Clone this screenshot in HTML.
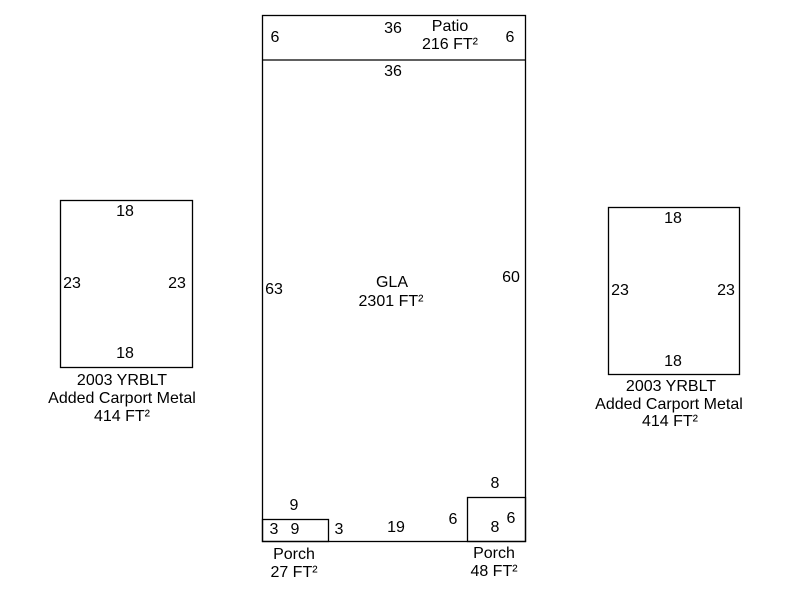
<!DOCTYPE html>
<html><head><style>body{margin:0;background:#fff}svg{display:block}text{font-family:"Liberation Sans",Arial,sans-serif;font-size:16px}</style></head><body>
<svg width="800" height="600" xmlns="http://www.w3.org/2000/svg" fill="#000" text-anchor="middle">
<g fill="none" stroke="#000" stroke-width="1.3">
<rect x="262.5" y="15.5" width="263" height="526"/>
<line x1="262" y1="60" x2="526" y2="60"/>
<rect x="262.5" y="519.5" width="66" height="22"/>
<rect x="467.5" y="497.5" width="58" height="44"/>
<rect x="60.5" y="200.5" width="132" height="167"/>
<rect x="608.5" y="207.5" width="131" height="167"/>
</g>
<text x="275" y="42">6</text><text x="393" y="33">36</text><text x="450" y="31">Patio</text><text x="450" y="49">216 FT²</text><text x="510" y="42">6</text>
<text x="393" y="76">36</text>
<text x="274" y="294">63</text><text x="511" y="282">60</text>
<text x="392" y="287">GLA</text><text x="391" y="306">2301 FT²</text>
<text x="294" y="510">9</text><text x="274" y="534">3</text><text x="295" y="534">9</text><text x="339" y="534">3</text>
<text x="396" y="532">19</text><text x="453" y="524">6</text>
<text x="495" y="488">8</text><text x="495" y="532">8</text><text x="511" y="523">6</text>
<text x="294" y="559">Porch</text><text x="294" y="577">27 FT²</text>
<text x="494" y="558">Porch</text><text x="494" y="576">48 FT²</text>
<text x="125" y="216">18</text><text x="72" y="288">23</text><text x="177" y="288">23</text><text x="125" y="358">18</text>
<text x="122" y="385">2003 YRBLT</text><text x="122" y="403">Added Carport Metal</text><text x="122" y="421">414 FT²</text>
<text x="673" y="223">18</text><text x="620" y="295">23</text><text x="726" y="295">23</text><text x="673" y="366">18</text>
<text x="671" y="391">2003 YRBLT</text><text x="669" y="409">Added Carport Metal</text><text x="670" y="426">414 FT²</text>
</svg>
</body></html>
